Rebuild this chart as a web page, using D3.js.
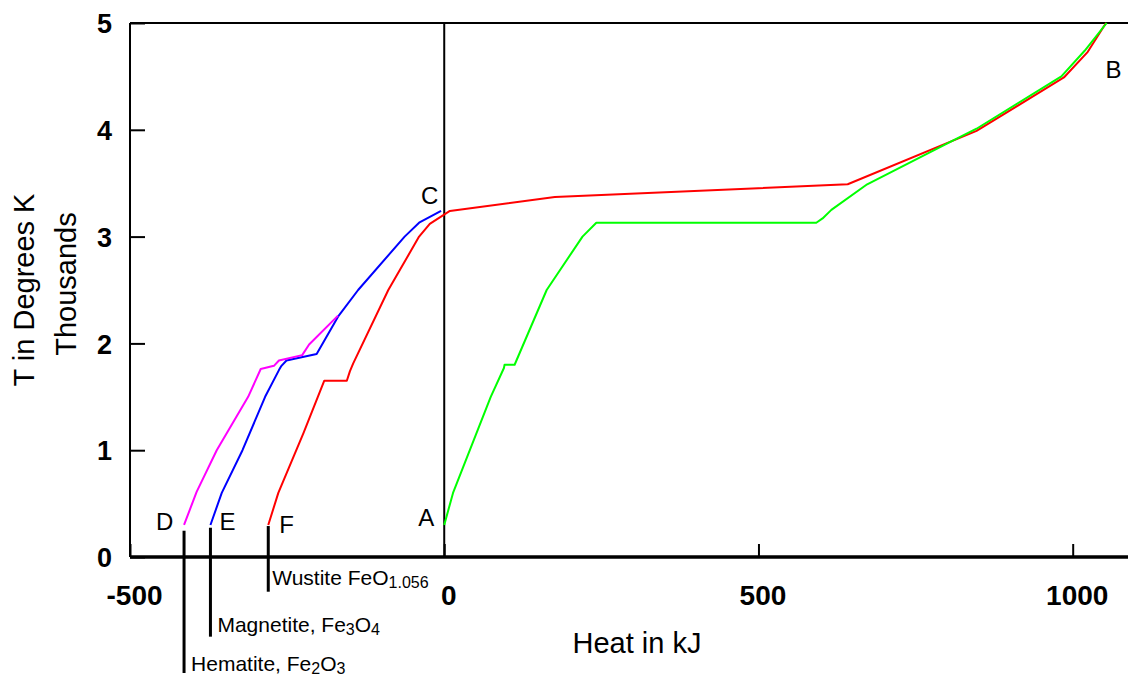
<!DOCTYPE html>
<html>
<head>
<meta charset="utf-8">
<script src="https://cdn.jsdelivr.net/npm/d3@7"></script>
<style>
  body { margin: 0; background: #fff; }
  svg { display: block; font-family: "Liberation Sans", Arial, sans-serif; }
</style>
</head>
<body>
<svg id="chart"></svg>
<script>
// heat (kJ) vs temperature (thousands of K)
const xTicks = [-500, 0, 500, 1000];
const yTicks = [0, 1, 2, 3, 4, 5];

const hematite = [[-414, 0.30], [-394, 0.61], [-362, 1.0], [-312, 1.5], [-292, 1.76], [-271, 1.79],
  [-263, 1.84], [-226, 1.89], [-215, 1.99], [-169, 2.26]];
const magnetite = [[-372, 0.30], [-354, 0.60], [-321, 1.0], [-285, 1.5], [-263, 1.75], [-259, 1.79],
  [-251, 1.84], [-203, 1.90], [-169, 2.25], [-137, 2.5], [-63, 3.0], [-40, 3.13], [-5, 3.24]];
const wustite = [[-280, 0.30], [-264, 0.60], [-224, 1.16], [-191, 1.65], [-155, 1.65], [-150, 1.74],
  [-145, 1.81], [-89, 2.5], [-40, 3.0], [-23, 3.12], [1, 3.21], [9, 3.24], [176, 3.37], [642, 3.49],
  [847, 3.99], [986, 4.49], [1024, 4.73], [1053, 5.0]];
const iron = [[0, 0.30], [14, 0.60], [74, 1.5], [95, 1.77], [96, 1.80], [112, 1.80], [163, 2.5],
  [220, 3.0], [242, 3.13], [592, 3.13], [602, 3.17], [616, 3.25], [673, 3.49], [810, 3.90],
  [847, 4.01], [982, 4.5], [1019, 4.74], [1054, 5.0]];

const series = [
  { name: "wustite", color: "#ff0000", values: wustite },
  { name: "iron", color: "#00ff00", values: iron },
  { name: "magnetite", color: "#0000ff", values: magnetite },
  { name: "hematite", color: "#ff00ff", values: hematite },
];

const pointLabels = [
  { text: "A", x: -28.5, y: 0.29 },
  { text: "B", x: 1065, y: 4.485 },
  { text: "C", x: -23, y: 3.305 },
  { text: "D", x: -445, y: 0.253 },
  { text: "E", x: -345, y: 0.253 },
  { text: "F", x: -251, y: 0.225 },
];

const compounds = [
  { name: "Wustite FeO", parts: [["1.056", true]], x: -280, top: 0.29, bottom: -0.325, textY: -0.262, dx: 4 },
  { name: "Magnetite, Fe", parts: [["3", true], ["O", false], ["4", true]], x: -372, top: 0.274, bottom: -0.746, textY: -0.70, dx: 7 },
  { name: "Hematite, Fe", parts: [["2", true], ["O", false], ["3", true]], x: -414, top: 0.246, bottom: -1.086, textY: -1.065, dx: 7 },
];

const W = 1128, H = 679;
const margin = { top: 23, right: 0, bottom: 122, left: 130 };
const width = W - margin.left - margin.right;
const height = H - margin.top - margin.bottom;

const svg = d3.select("#chart").attr("width", W).attr("height", H);
const g = svg.append("g").attr("transform", `translate(${margin.left},${margin.top})`);

const x = d3.scaleLinear().domain([-500, 1088]).range([0, width]);
const y = d3.scaleLinear().domain([0, 5]).range([height, 0]);

// frame: top line and vertical line at zero
g.append("line").attr("x1", 0).attr("x2", width).attr("y1", 0).attr("y2", 0)
  .attr("stroke", "#000").attr("stroke-width", 2);
g.append("line").attr("x1", x(0)).attr("x2", x(0)).attr("y1", 0).attr("y2", height)
  .attr("stroke", "#000").attr("stroke-width", 2);

// y axis
const yAxis = g.append("g")
  .call(d3.axisRight(y).tickValues(yTicks).tickSize(15).tickFormat(""));
yAxis.select(".domain").attr("stroke-width", 2).attr("d", `M0,0V${height}`);
yAxis.selectAll(".tick line").attr("stroke-width", 2);
yAxis.selectAll(".tick").append("text")
  .attr("x", -18).attr("dy", "0.36em")
  .attr("text-anchor", "end").attr("fill", "#000")
  .style("font-size", "27px").style("font-weight", "bold")
  .text(d => d);

// x axis
const xAxis = g.append("g").attr("transform", `translate(0,${height})`)
  .call(d3.axisTop(x).tickValues(xTicks).tickSize(13).tickFormat(""));
xAxis.select(".domain").attr("stroke-width", 3.5).attr("d", `M0,0H${width}`);
xAxis.selectAll(".tick line").attr("stroke-width", 2);
xAxis.selectAll(".tick").append("text")
  .attr("x", 4).attr("y", 48)
  .attr("text-anchor", "middle").attr("fill", "#000")
  .style("font-size", "28px").style("font-weight", "bold")
  .text(d => d);

// axis titles
svg.append("text")
  .attr("x", 637).attr("y", 653)
  .attr("text-anchor", "middle")
  .style("font-size", "29px")
  .text("Heat in kJ");
svg.append("text")
  .attr("transform", "translate(34,290) rotate(-90)")
  .attr("text-anchor", "middle")
  .style("font-size", "29px")
  .text("T in Degrees K");
svg.append("text")
  .attr("transform", "translate(76,284) rotate(-90)")
  .attr("text-anchor", "middle")
  .style("font-size", "29px")
  .text("Thousands");

// curves
const line = d3.line().x(d => x(d[0])).y(d => y(d[1]));
g.append("g").selectAll("path")
  .data(series)
  .join("path")
  .attr("fill", "none")
  .attr("stroke", d => d.color)
  .attr("stroke-width", 2)
  .attr("stroke-linejoin", "round")
  .attr("d", d => line(d.values));

// point letters
g.append("g").selectAll("text")
  .data(pointLabels)
  .join("text")
  .attr("x", d => x(d.x)).attr("y", d => y(d.y))
  .attr("text-anchor", "middle")
  .style("font-size", "24px")
  .text(d => d.text);

// compound leaders
const comp = g.append("g").selectAll("g").data(compounds).join("g");
comp.append("line")
  .attr("x1", d => x(d.x)).attr("x2", d => x(d.x))
  .attr("y1", d => y(d.top)).attr("y2", d => y(d.bottom))
  .attr("stroke", "#000").attr("stroke-width", 3);
comp.append("text")
  .attr("x", d => x(d.x) + d.dx).attr("y", d => y(d.textY))
  .style("font-size", "21px")
  .each(function(d) {
    const t = d3.select(this);
    t.append("tspan").text(d.name);
    let sub = false;
    d.parts.forEach(([s, isSub]) => {
      const shift = isSub === sub ? 0 : (isSub ? 3 : -3);
      t.append("tspan")
        .attr("dy", shift)
        .style("font-size", isSub ? "16px" : "21px")
        .text(s);
      sub = isSub;
    });
  });
</script>
</body>
</html>
